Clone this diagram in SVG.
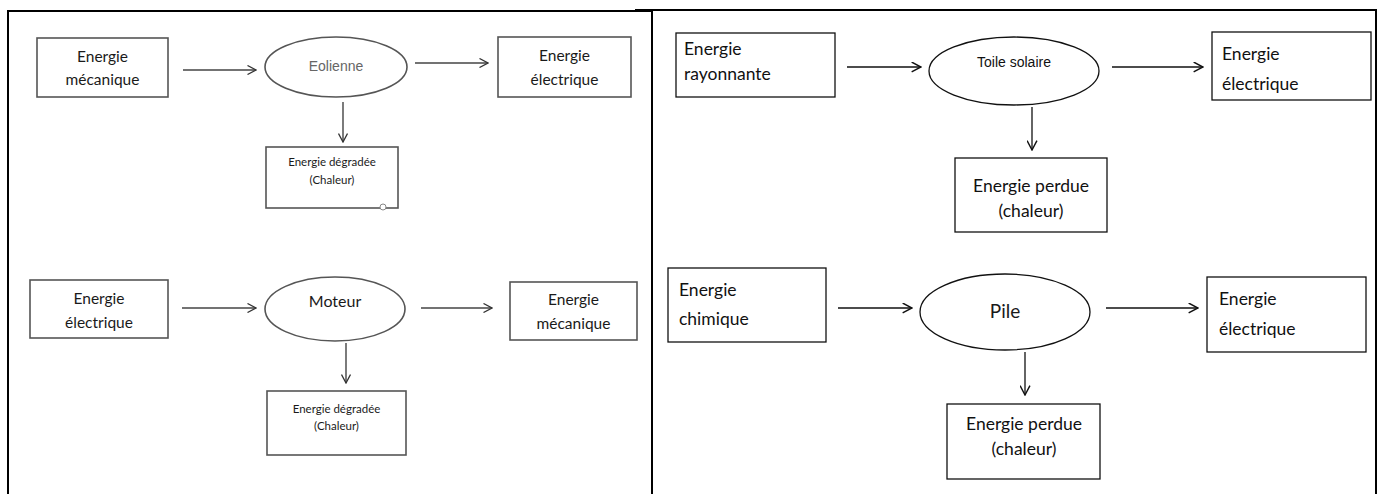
<svg xmlns="http://www.w3.org/2000/svg" width="1383" height="494" viewBox="0 0 1383 494">
<defs>
<style>
.frame{stroke:#000;stroke-width:2;fill:none}
.bl{fill:#fff;stroke:#555;stroke-width:1.6}
.br{fill:#fff;stroke:#111;stroke-width:1.3}
.cl{stroke:#444;stroke-width:1.4;fill:none}
.cr{stroke:#111;stroke-width:1.3;fill:none}
.t{font-family:Lato,"Liberation Sans",sans-serif;fill:#1a1a1a}
.tl{font-size:15.5px;text-anchor:middle}
.ts{font-size:11.5px;text-anchor:middle}
.tr{font-size:17.5px;fill:#111}
.trc{font-size:17.5px;fill:#111;text-anchor:middle}
.ta{font-family:"Liberation Sans",Arial,sans-serif}
</style>
<marker id="ah" viewBox="0 0 10 10" refX="9.5" refY="5" markerWidth="10" markerHeight="10" markerUnits="userSpaceOnUse" orient="auto">
<path d="M1,0.5 L9.5,5 L1,9.5" fill="none" stroke="#333" stroke-width="1.3"/>
</marker>
<marker id="ahk" viewBox="0 0 10 10" refX="9.5" refY="5" markerWidth="11" markerHeight="11" markerUnits="userSpaceOnUse" orient="auto">
<path d="M1,0.5 L9.5,5 L1,9.5" fill="none" stroke="#111" stroke-width="1.3"/>
</marker>
</defs>
<rect width="1383" height="494" fill="#fff"/>
<g id="table">
<line class="frame" x1="7" y1="11" x2="652" y2="11"/>
<line class="frame" x1="635" y1="10" x2="1377" y2="10"/>
<line class="frame" x1="8" y1="10" x2="8" y2="494"/>
<line class="frame" x1="652" y1="10" x2="652" y2="494"/>
<line class="frame" x1="1376" y1="9" x2="1376" y2="494"/>
</g>
<g id="connectors">
<line class="cl" x1="183" y1="70" x2="256" y2="70" marker-end="url(#ah)"/>
<line class="cl" x1="415" y1="63" x2="488" y2="63" marker-end="url(#ah)"/>
<line class="cl" x1="343" y1="102" x2="343" y2="142" marker-end="url(#ah)"/>
<line class="cl" x1="182" y1="308" x2="256" y2="308" marker-end="url(#ah)"/>
<line class="cl" x1="421" y1="308" x2="492" y2="308" marker-end="url(#ah)"/>
<line class="cl" x1="346" y1="343" x2="346" y2="383" marker-end="url(#ah)"/>
<line class="cr" x1="847" y1="67" x2="921" y2="67" marker-end="url(#ahk)"/>
<line class="cr" x1="1112" y1="67" x2="1203" y2="67" marker-end="url(#ahk)"/>
<line class="cr" x1="1032" y1="107" x2="1032" y2="150" marker-end="url(#ahk)"/>
<line class="cr" x1="838" y1="308" x2="912" y2="308" marker-end="url(#ahk)"/>
<line class="cr" x1="1106" y1="308" x2="1198" y2="308" marker-end="url(#ahk)"/>
<line class="cr" x1="1025" y1="352" x2="1025" y2="395" marker-end="url(#ahk)"/>
</g>
<g id="n1-mecanique">
<rect class="bl" x="37" y="38" width="131" height="59"/>
<text class="t tl" x="102.5" y="62">Energie</text>
<text class="t tl" x="102.5" y="85">mécanique</text>
</g>
<g id="n1-eolienne">
<ellipse class="bl" cx="336" cy="67" rx="71" ry="30"/>
<text class="ta" x="336" y="71" font-size="14" fill="#666" text-anchor="middle">Eolienne</text>
</g>
<g id="n1-electrique">
<rect class="bl" x="498" y="37" width="133" height="60"/>
<text class="t tl" x="564.5" y="61">Energie</text>
<text class="t tl" x="564.5" y="85">électrique</text>
</g>
<g id="n1-degradee">
<rect class="bl" x="266" y="147" width="132" height="61"/>
<text class="t ts" x="332" y="166">Energie dégradée</text>
<text class="t ts" x="332" y="184">(Chaleur)</text>
<circle cx="383" cy="207" r="3" fill="#fff" stroke="#888" stroke-width="1"/>
</g>
<g id="n2-electrique">
<rect class="bl" x="30" y="280" width="138" height="58"/>
<text class="t tl" x="99" y="304">Energie</text>
<text class="t tl" x="99" y="328">électrique</text>
</g>
<g id="n2-moteur">
<ellipse class="bl" cx="335" cy="309" rx="70" ry="32"/>
<text class="t" x="335" y="307" font-size="16" text-anchor="middle">Moteur</text>
</g>
<g id="n2-mecanique">
<rect class="bl" x="510" y="282" width="127" height="58"/>
<text class="t tl" x="573.5" y="305">Energie</text>
<text class="t tl" x="573.5" y="329">mécanique</text>
</g>
<g id="n2-degradee">
<rect class="bl" x="267" y="391" width="139" height="64"/>
<text class="t ts" x="336.5" y="413">Energie dégradée</text>
<text class="t ts" x="336.5" y="430">(Chaleur)</text>
</g>
<g id="n3-rayonnante">
<rect class="br" x="676" y="33" width="159" height="64"/>
<text class="t tr" x="684" y="55">Energie</text>
<text class="t tr" x="684" y="80">rayonnante</text>
</g>
<g id="n3-toile">
<ellipse class="br" cx="1014" cy="71" rx="85" ry="34"/>
<text class="ta" x="1014" y="67" font-size="14" fill="#111" text-anchor="middle">Toile solaire</text>
</g>
<g id="n3-electrique">
<rect class="br" x="1212" y="32" width="159" height="68"/>
<text class="t tr" x="1222" y="60">Energie</text>
<text class="t tr" x="1222" y="90">électrique</text>
</g>
<g id="n3-perdue">
<rect class="br" x="955" y="158" width="152" height="74"/>
<text class="t trc" x="1031" y="192">Energie perdue</text>
<text class="t trc" x="1031" y="217">(chaleur)</text>
</g>
<g id="n4-chimique">
<rect class="br" x="668" y="268" width="158" height="74"/>
<text class="t tr" x="679" y="296">Energie</text>
<text class="t tr" x="679" y="325">chimique</text>
</g>
<g id="n4-pile">
<ellipse class="br" cx="1005" cy="312" rx="85" ry="38"/>
<text class="t" x="1005" y="318" font-size="19" fill="#111" text-anchor="middle">Pile</text>
</g>
<g id="n4-electrique">
<rect class="br" x="1207" y="277" width="159" height="75"/>
<text class="t tr" x="1219" y="305">Energie</text>
<text class="t tr" x="1219" y="335">électrique</text>
</g>
<g id="n4-perdue">
<rect class="br" x="947" y="404" width="153" height="75"/>
<text class="t trc" x="1024" y="430">Energie perdue</text>
<text class="t trc" x="1024" y="455">(chaleur)</text>
</g>
</svg>
